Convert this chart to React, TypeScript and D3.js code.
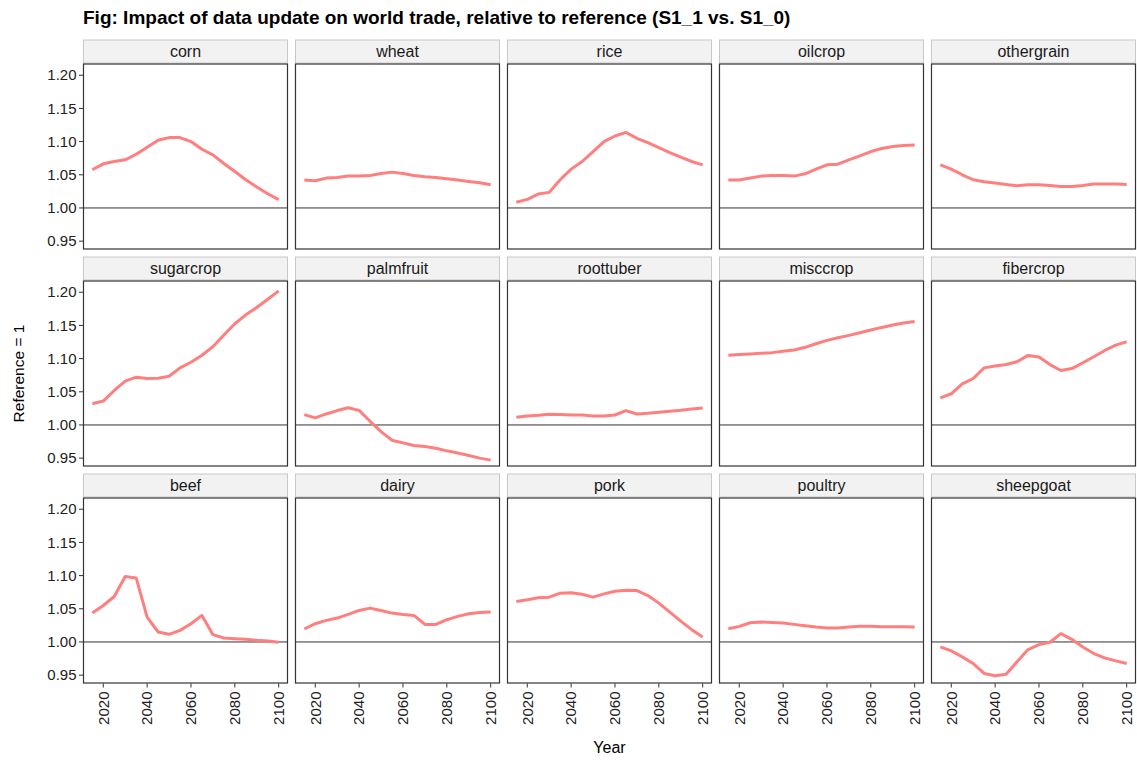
import React from "react";
import * as d3 from "d3";

const years = [2015, 2020, 2025, 2030, 2035, 2040, 2045, 2050, 2055, 2060, 2065, 2070, 2075, 2080, 2085, 2090, 2095, 2100];

const categories = ["corn", "wheat", "rice", "oilcrop", "othergrain", "sugarcrop", "palmfruit", "roottuber", "misccrop", "fibercrop", "beef", "dairy", "pork", "poultry", "sheepgoat"];

const corn = [1.0575, 1.0665, 1.07, 1.0725, 1.081, 1.0915, 1.102, 1.106, 1.106, 1.1, 1.0885, 1.08, 1.067, 1.055, 1.0425, 1.0315, 1.0215, 1.0125];
const wheat = [1.042, 1.041, 1.045, 1.046, 1.048, 1.048, 1.049, 1.052, 1.054, 1.052, 1.049, 1.047, 1.046, 1.044, 1.042, 1.04, 1.038, 1.035];
const rice = [1.0085, 1.013, 1.021, 1.0235, 1.0425, 1.0585, 1.07, 1.085, 1.1, 1.1085, 1.114, 1.105, 1.0985, 1.091, 1.0835, 1.0765, 1.07, 1.065];
const oilcrop = [1.042, 1.042, 1.045, 1.048, 1.049, 1.049, 1.048, 1.0515, 1.0585, 1.065, 1.066, 1.0725, 1.0785, 1.085, 1.0895, 1.0925, 1.094, 1.095];
const othergrain = [1.065, 1.0585, 1.05, 1.0425, 1.0395, 1.0375, 1.0355, 1.0335, 1.035, 1.035, 1.034, 1.0325, 1.0325, 1.034, 1.036, 1.036, 1.036, 1.0355];
const sugarcrop = [1.032, 1.036, 1.052, 1.066, 1.072, 1.07, 1.0705, 1.0735, 1.086, 1.0945, 1.105, 1.118, 1.1355, 1.1525, 1.166, 1.177, 1.1895, 1.202];
const palmfruit = [1.0156, 1.0106, 1.0166, 1.0217, 1.026, 1.022, 1.0055, 0.99, 0.977, 0.973, 0.969, 0.9675, 0.965, 0.961, 0.9577, 0.954, 0.95, 0.947];
const roottuber = [1.0116, 1.0136, 1.0146, 1.016, 1.0156, 1.015, 1.015, 1.0136, 1.0136, 1.015, 1.0217, 1.0166, 1.0176, 1.019, 1.0207, 1.022, 1.024, 1.0257];
const misccrop = [1.105, 1.106, 1.107, 1.108, 1.109, 1.111, 1.113, 1.117, 1.1224, 1.1275, 1.1315, 1.135, 1.139, 1.143, 1.147, 1.1506, 1.1536, 1.156];
const fibercrop = [1.0408, 1.047, 1.062, 1.07, 1.086, 1.0887, 1.091, 1.0952, 1.1048, 1.1023, 1.091, 1.082, 1.085, 1.0937, 1.1028, 1.1123, 1.1204, 1.1254];
const beef = [1.0435, 1.055, 1.0685, 1.0985, 1.0965, 1.0375, 1.015, 1.0115, 1.0175, 1.0275, 1.04, 1.011, 1.006, 1.005, 1.004, 1.0025, 1.0015, 0.9995];
const dairy = [1.0195, 1.0275, 1.0325, 1.036, 1.0415, 1.0475, 1.051, 1.0475, 1.0435, 1.0415, 1.04, 1.0265, 1.0265, 1.0335, 1.0385, 1.0425, 1.0445, 1.045];
const pork = [1.061, 1.0635, 1.0665, 1.0675, 1.0735, 1.074, 1.072, 1.0675, 1.0725, 1.0765, 1.078, 1.0775, 1.07, 1.0585, 1.045, 1.0315, 1.0185, 1.0075];
const poultry = [1.02, 1.0235, 1.029, 1.03, 1.0295, 1.0285, 1.0265, 1.0245, 1.0225, 1.021, 1.021, 1.0225, 1.0235, 1.0235, 1.023, 1.023, 1.023, 1.0225];
const sheepgoat = [0.9925, 0.9865, 0.9775, 0.9675, 0.9525, 0.949, 0.9515, 0.97, 0.9885, 0.996, 0.9995, 1.0125, 1.004, 0.9925, 0.9825, 0.976, 0.9715, 0.9675];

const seriesValues = [corn, wheat, rice, oilcrop, othergrain, sugarcrop, palmfruit, roottuber, misccrop, fibercrop, beef, dairy, pork, poultry, sheepgoat];

const yTicks = [0.95, 1.0, 1.05, 1.1, 1.15, 1.2];
const xTicks = [2020, 2040, 2060, 2080, 2100];

const titleText = "Fig: Impact of data update on world trade, relative to reference (S1_1 vs. S1_0)";
const yTitle = "Reference = 1";
const xTitle = "Year";

const W = 1137;
const H = 760;
const left = 83;
const right = 1136;
const colGap = 7;
const nCols = 5;
const panelW = (right - left - colGap * (nCols - 1)) / nCols;
const top0 = 39.5;
const stripH = 24;
const panelH = 186;
const rowPitch = 217;
const FONT = "'Liberation Sans', Arial, sans-serif";

export default function App() {
  const x = d3.scaleLinear().domain([2010.75, 2104.25]).range([0, panelW]);
  const y = d3.scaleLinear().domain([0.9374, 1.2177]).range([panelH, 0]);
  const line = d3
    .line<number>()
    .x((_, i) => x(years[i]))
    .y((v) => y(v))
    .curve(d3.curveLinear);

  return (
    <svg width={W} height={H} style={{ position: "absolute", left: 0, top: 0, background: "#fff" }} fontFamily={FONT}>
      <rect x={0} y={0} width={W} height={H} fill="#fff" />
      <text x={83} y={24} fontSize={19} fontWeight="bold" fill="#000">
        {titleText}
      </text>
      {categories.map((cat, k) => {
        const col = k % nCols;
        const row = Math.floor(k / nCols);
        const px = left + col * (panelW + colGap);
        const sy = top0 + row * rowPitch;
        const py = sy + stripH;
        return (
          <g key={cat}>
            <rect x={px + 0.5} y={sy + 0.5} width={panelW - 1} height={stripH - 1} fill="#f2f2f2" stroke="#c8c8c8" strokeWidth={1} />
            <text x={px + panelW / 2} y={sy + stripH / 2 + 5.5} textAnchor="middle" fontSize={16} fill="#1a1a1a">
              {cat}
            </text>
            <g transform={`translate(${px},${py})`}>
              <rect x={0} y={0} width={panelW} height={panelH} fill="#fff" />
              <line x1={0} x2={panelW} y1={y(1)} y2={y(1)} stroke="#333" strokeWidth={1} />
              <path d={line(seriesValues[k]) || ""} fill="none" stroke="#ff7f7f" strokeWidth={3} strokeLinejoin="round" />
              <rect x={0.5} y={0.5} width={panelW - 1} height={panelH - 1} fill="none" stroke="#333" strokeWidth={1.2} />
              {col === 0 &&
                yTicks.map((t) => (
                  <g key={t} transform={`translate(0,${y(t)})`}>
                    <line x1={-4} x2={0} stroke="#333" strokeWidth={1} />
                    <text x={-6.5} dy="0.35em" textAnchor="end" fontSize={15} fill="#222">
                      {t.toFixed(2)}
                    </text>
                  </g>
                ))}
              {row === 2 &&
                xTicks.map((t) => (
                  <g key={t} transform={`translate(${x(t)},${panelH})`}>
                    <line y1={0} y2={4} stroke="#333" strokeWidth={1} />
                    <text transform="rotate(-90)" x={-8} dy="0.35em" textAnchor="end" fontSize={15} fill="#222">
                      {t}
                    </text>
                  </g>
                ))}
            </g>
          </g>
        );
      })}
      <text transform={`translate(24,${top0 + stripH + (rowPitch * 2 + panelH) / 2}) rotate(-90)`} textAnchor="middle" fontSize={15.5} fill="#000">
        {yTitle}
      </text>
      <text x={(left + right) / 2} y={753} textAnchor="middle" fontSize={16} fill="#000">
        {xTitle}
      </text>
    </svg>
  );
}
